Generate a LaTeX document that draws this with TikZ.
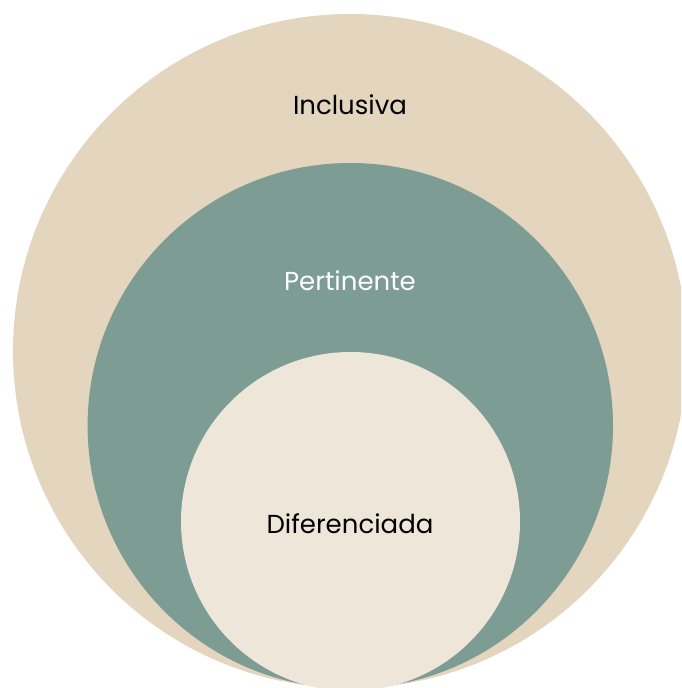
\documentclass[tikz,border=0pt]{standalone}
\usepackage{fontspec}
\setmainfont{Poppins}
\usepackage{xcolor}
\definecolor{arena}{HTML}{E3D5BE}
\definecolor{salvia}{HTML}{7C9C94}
\definecolor{lino}{HTML}{EFE6DA}
\tikzset{
    capa/.style = {font=\fontsize{26}{30}\selectfont}
}

\begin{document}
\begin{tikzpicture}[x = 1pt, y = -1pt]
            \useasboundingbox (0,0) rectangle (681,688);
            \clip (0,0) rectangle (681,688);
            \fill[arena] (350,351) circle (337);
            \fill[salvia] (350.3,425.7) circle (262.7);
            \fill[lino] (350.5,521.5) circle (169.5);
            \node[capa, black] (inclusiva) at (350,105) {Inclusiva};
            \node[capa, white] (pertinente) at (350,281) {Pertinente};
            \node[capa, black] (diferenciada) at (350,524) {Diferenciada};

        \end{tikzpicture}
\end{document}
